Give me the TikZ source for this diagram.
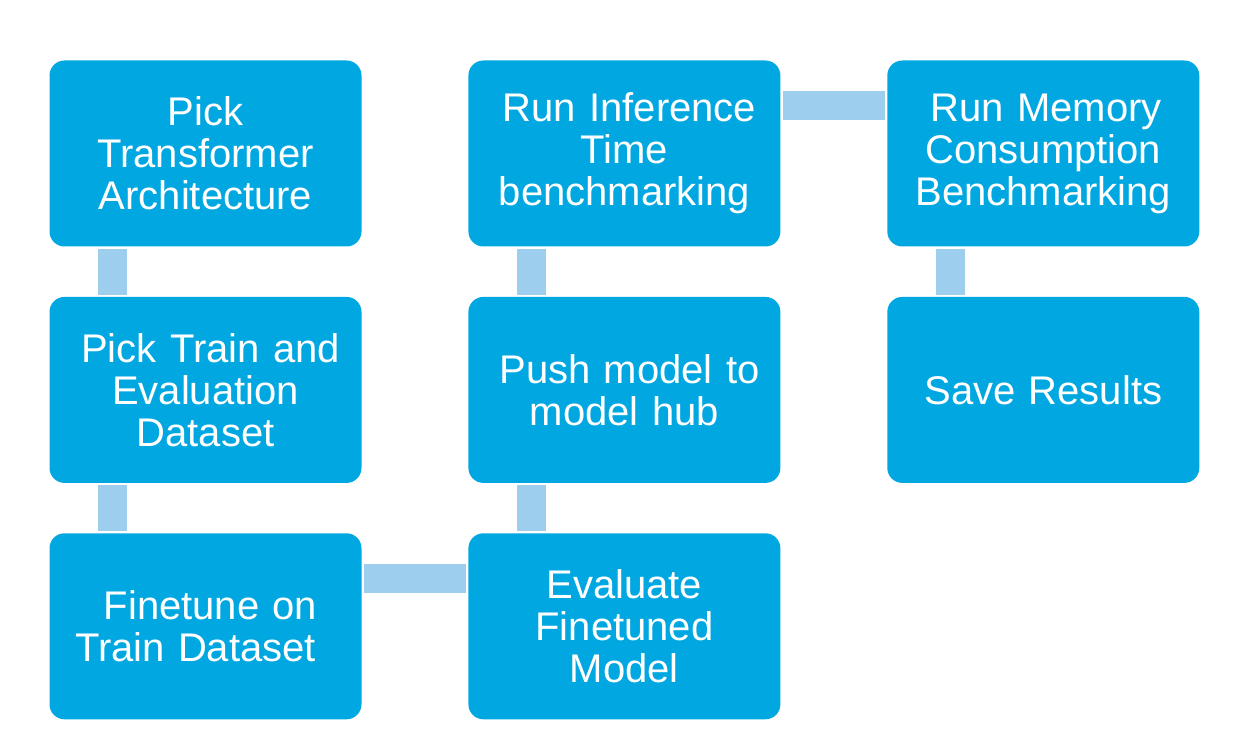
\documentclass[tikz,border=0pt]{standalone}
\usepackage{fontspec}
\setmainfont{Liberation Sans}
\usepackage{tikz}
\usetikzlibrary{positioning}
\usepackage{xcolor}
\definecolor{boxblue}{RGB}{0,167,224}
\definecolor{linkblue}{RGB}{157,206,238}

\begin{document}
\begin{tikzpicture}[x=1pt,y=-1pt,
  stepbox/.style={fill=boxblue,rounded corners=15pt,minimum width=312pt,minimum height=186pt,
    text width=300pt,align=center,text=white,font=\fontsize{40}{42}\selectfont,inner sep=0pt},
  link/.style={draw=linkblue,line width=29pt,line cap=butt}]
\useasboundingbox (0,0) rectangle (1248,754);
% column one
\node[stepbox] (arch) at (205.5,153.5) {Pick\\Transformer\\Architecture};
\node[stepbox,below=50pt of arch] (data) {\hspace*{10pt}Pick Train and\\Evaluation\\Dataset};
\node[stepbox,below=50pt of data] (tune) {\hspace*{10pt}Finetune on\\Train Dataset\hspace*{20pt}};
% column two
\node[stepbox,right=106.5pt of tune] (eval) {Evaluate\\Finetuned\\Model};
\node[stepbox,above=50pt of eval] (push) {\hspace*{10pt}Push model to\\model hub};
\node[stepbox,above=50pt of push] (infer) {\hspace*{10pt}Run Inference\\Time\\benchmarking};
% column three
\node[stepbox,right=106.5pt of infer] (mem) {\hspace*{6pt}Run Memory\\Consumption\\Benchmarking};
\node[stepbox,below=50pt of mem] (save) {Save Results};
% links
\draw[link] ([xshift=63pt,yshift=-2pt]arch.south west) -- ([xshift=63pt,yshift=2pt]data.north west);
\draw[link] ([xshift=63pt,yshift=-2pt]data.south west) -- ([xshift=63pt,yshift=2pt]tune.north west);
\draw[link] ([xshift=2pt,yshift=-45pt]tune.north east) -- ([xshift=-2pt,yshift=-45pt]eval.north west);
\draw[link] ([xshift=63pt,yshift=2pt]eval.north west) -- ([xshift=63pt,yshift=-2pt]push.south west);
\draw[link] ([xshift=63pt,yshift=2pt]push.north west) -- ([xshift=63pt,yshift=-2pt]infer.south west);
\draw[link] ([xshift=2pt,yshift=-45pt]infer.north east) -- ([xshift=-2pt,yshift=-45pt]mem.north west);
\draw[link] ([xshift=63pt,yshift=-2pt]mem.south west) -- ([xshift=63pt,yshift=2pt]save.north west);
\end{tikzpicture}
\end{document}
